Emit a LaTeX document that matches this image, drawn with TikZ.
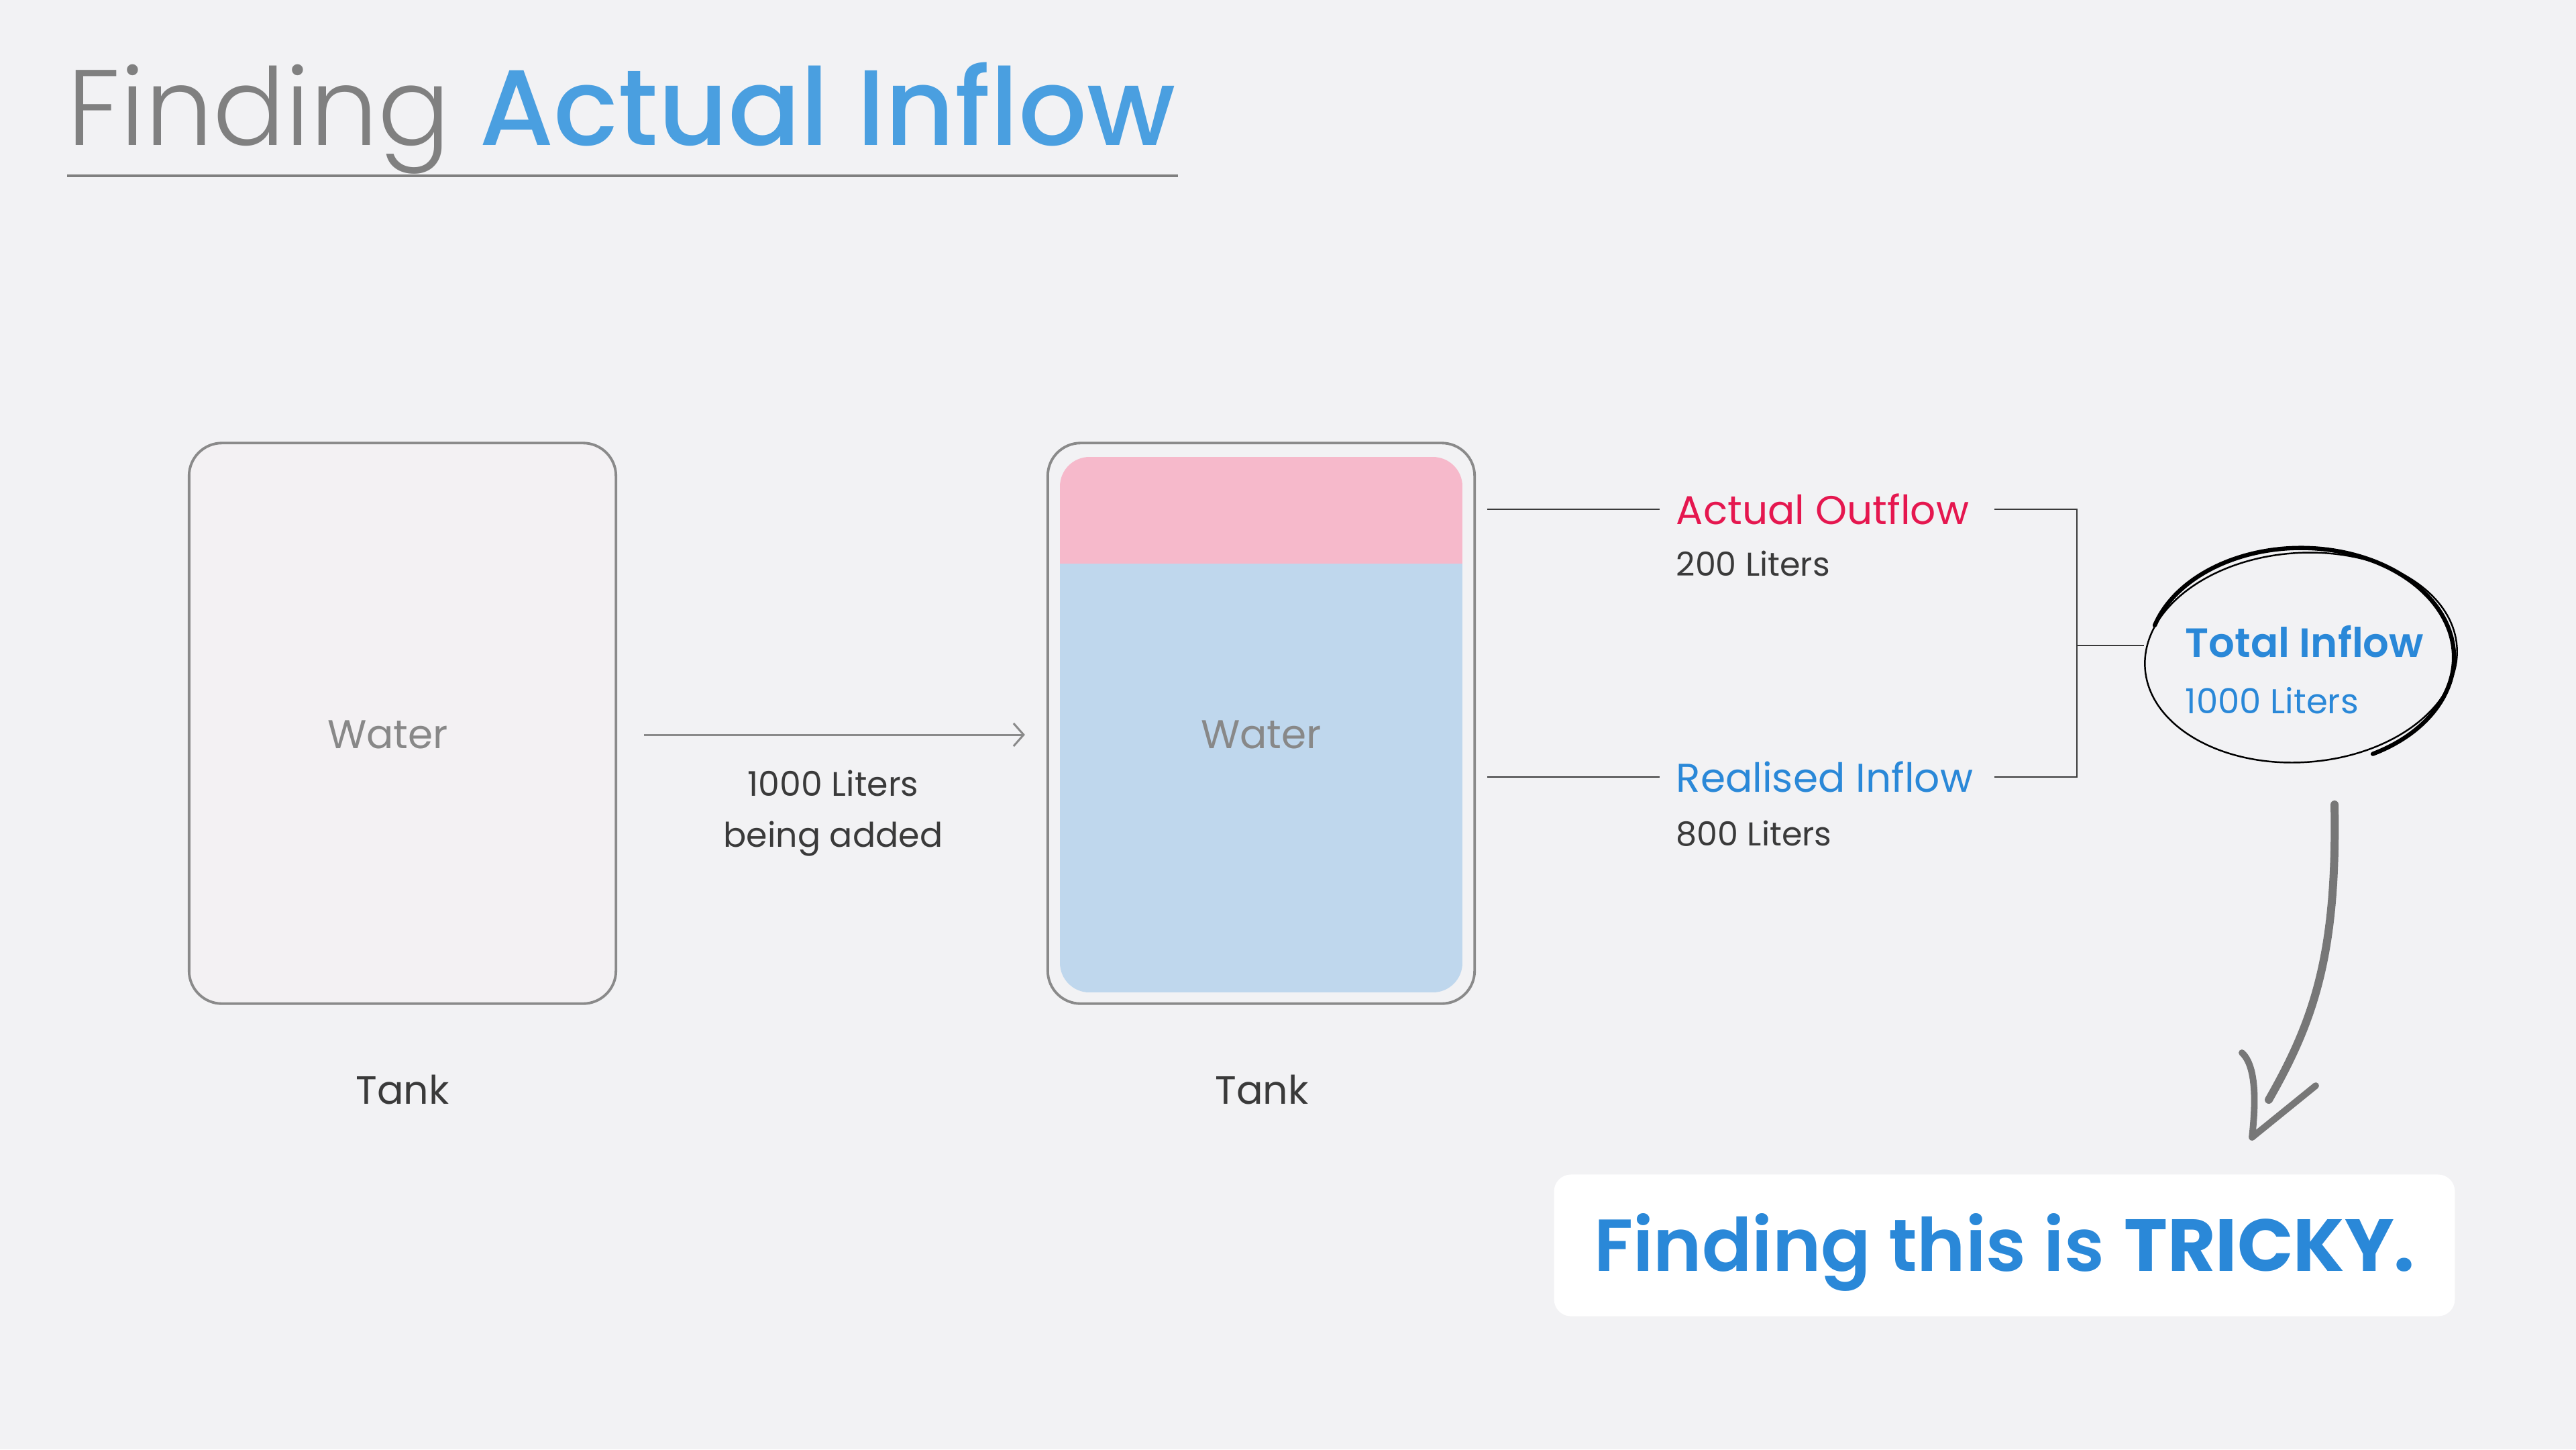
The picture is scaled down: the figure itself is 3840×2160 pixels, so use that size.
\documentclass[tikz,border=0pt]{standalone}
\usepackage{fontspec}
\setmainfont{Poppins}
\newfontfamily\poplight{Poppins Light}
\newfontfamily\popmed{Poppins Medium}
\newfontfamily\popsemi{Poppins SemiBold}
\newfontfamily\popbold{Poppins Bold}
\usepackage{tikz}
\usetikzlibrary{arrows.meta, positioning, shapes.geometric, calc}
\definecolor{pagebg}{HTML}{F2F2F4}
\definecolor{tankfill}{HTML}{F3F1F3}
\definecolor{tankline}{HTML}{8A8A8A}
\definecolor{outpink}{HTML}{F6B9CB}
\definecolor{inblue}{HTML}{BFD7ED}
\definecolor{titlegray}{HTML}{808080}
\definecolor{titleblue}{HTML}{4A9FE0}
\definecolor{accent}{HTML}{E5174F}
\definecolor{inkblue}{HTML}{2A88D8}
\definecolor{textdark}{HTML}{3A3A3A}
\definecolor{textgray}{HTML}{888888}
\definecolor{sketch}{HTML}{777777}
\tikzset{
  tank/.style={rectangle, rounded corners=4.9mm, draw=tankline, line width=1.1pt,
               minimum width=63.6mm, minimum height=83.5mm, inner sep=0pt},
  water/.style={inner sep=0pt, text=textgray, font=\fontsize{17}{20}\selectfont},
  caption/.style={inner sep=0pt, text=textdark, font=\fontsize{16.7}{20}\selectfont},
  amount/.style={inner sep=0pt, text=textdark, align=center,
                 font=\fontsize{14.4}{21.6}\selectfont},
  tag/.style={inner sep=0pt, anchor=west, font=\fontsize{17}{20}\selectfont},
  qty/.style={inner sep=0pt, anchor=west, text=textdark, font=\fontsize{14}{17}\selectfont},
  ring/.style={ellipse, minimum width=46.6mm, minimum height=31.6mm, inner sep=0pt},
  callout/.style={rectangle, rounded corners=2.5mm, fill=white, text=inkblue,
                  minimum width=134.2mm, minimum height=21.1mm, inner sep=0pt,
                  font=\fontsize{31.2}{38}\selectfont},
  link/.style={line width=0.75pt, textdark},
  flow/.style={-{Straight Barb[length=1.5mm, width=3.4mm]}, line width=0.85pt, tankline},
  rule/.style={line width=0.9pt, titlegray},
  stroke/.style={line width=3.4pt, sketch, line cap=round, line join=round},
}

\begin{document}
\begin{tikzpicture}[x=0.01cm, y=-0.01cm]
  \useasboundingbox (0,0) rectangle (3840,2160);
  \fill[pagebg] (0,0) rectangle (3840,2160);
  % title
  \node[inner sep=0pt, anchor=base west, font=\fontsize{45.5}{55}\selectfont] (head) at (100,216)
    {\textcolor{titlegray}{\poplight Finding} \textcolor{titleblue}{\popmed Actual Inflow}};
  \draw[rule] (100,262) -- (1756,262);
  % tanks
  \node[tank, fill=tankfill] (tankA) at (600,1078) {};
  \node[tank] (tankB) at (1880,1078) {};
  \begin{scope}
    \clip[rounded corners=4.4mm] (1580,681) rectangle (2180,1479);
    \fill[outpink] (1580,681) rectangle (2180,840);
    \fill[inblue] (1580,840) rectangle (2180,1479);
  \end{scope}
  \node[water] (waterA) at (578,1095) {Water};
  \node[water] (waterB) at (1880,1095) {Water};
  \node[caption] (capA) at (600,1624) {Tank};
  \node[caption] (capB) at (1881,1624) {Tank};
  % water poured in
  \draw[flow, shorten <=4mm, shorten >=3.2mm] ([yshift=-1.7mm]tankA.east) -- ([yshift=-1.7mm]tankB.west);
  \node[amount] (added) at (1242,1212) {1000 Liters\\being added};
  % split of the inflow
  \node[tag, text=accent] (outflow) at (2498,759) {Actual Outflow};
  \node[qty] (outqty) at (2498,840) {200 Liters};
  \node[tag, text=inkblue] (inflow) at (2498,1158) {Realised Inflow};
  \node[qty] (inqty) at (2498,1242) {800 Liters};
  \draw[link, shorten <=1.7mm, shorten >=2.4mm] (tankB.east |- outflow.west) -- (outflow.west);
  \draw[link, shorten <=1.7mm, shorten >=2.4mm] (tankB.east |- inflow.west) -- (inflow.west);
  \coordinate (brk) at (2973,0);
  \coordinate (join) at (3096,962);
  \draw[link] (outflow.east -| brk) -| (join) |- (inflow.east -| brk);
  % total, circled by hand
  \node[ring] (ring) at (3430,980) {};
  \draw[link] (join) -- (join -| ring.west);
  \node[inner sep=0pt, anchor=west, align=left, text=inkblue,
        font=\fontsize{14.6}{23.7}\selectfont] (total) at (3257,998)
    {{\popsemi\fontsize{17.3}{23.7}\selectfont Total Inflow}\\1000 Liters};
  \begin{scope}[shift={(ring.center)}, yscale=-1]
    \draw[line width=0.7pt, rotate=-4] (0,0) ellipse [x radius=233, y radius=156];
    \draw[line width=1.8pt, line cap=round]
      (-218,48) arc[start angle=163, end angle=-62, x radius=228, y radius=163];
  \end{scope}
  % pointer to the remark
  \coordinate (arrTop) at (3480,1199);
  \coordinate (arrEnd) at (3382,1639);
  \draw[stroke] (arrTop) .. controls (3484,1420) and (3450,1520) .. (arrEnd);
  \draw[stroke, line width=2.8pt] (3342,1569) .. controls (3365,1590) and (3362,1650) .. (3357,1695)
    -- (3452,1618);
  \node[callout] (tricky) at (2988,1856)
    {\raisebox{-10.9pt}[0pt][0pt]{{\popsemi Finding this is} {\popbold TRICKY.}}};
\end{tikzpicture}
\end{document}
